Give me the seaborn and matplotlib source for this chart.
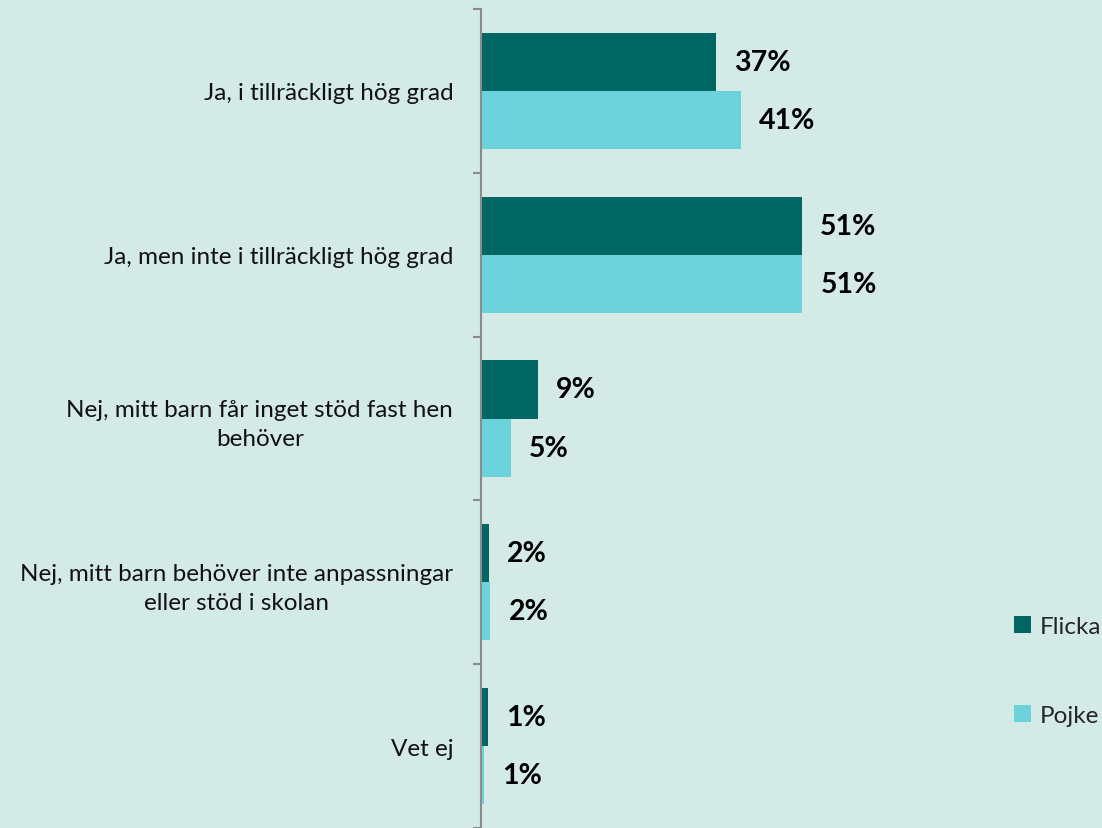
import pandas as pd
import numpy as np
import matplotlib
matplotlib.use('Agg')
import matplotlib.pyplot as plt
import seaborn as sns

kategorier = ['Ja, i tillräckligt hög grad',
              'Ja, men inte i tillräckligt hög grad',
              'Nej, mitt barn får inget stöd fast hen\nbehöver',
              'Nej, mitt barn behöver inte anpassningar\neller stöd i skolan',
              'Vet ej']
flicka = [37.4, 51.0, 9.0, 1.3, 1.1]
pojke = [41.3, 51.1, 4.8, 1.5, 0.5]
flicka_etiketter = ['37%', '51%', '9%', '2%', '1%']
pojke_etiketter = ['41%', '51%', '5%', '2%', '1%']

dados = pd.DataFrame({
    'kategori': kategorier * 2,
    'andel': flicka + pojke,
    'kon': ['Flicka'] * 5 + ['Pojke'] * 5,
})

bg = '#D3EAE6'
farger = {'Flicka': '#006663', 'Pojke': '#6CD3DD'}

sns.set_style('white')
plt.rcParams['font.family'] = ['Lato', 'DejaVu Sans']

fig = plt.figure(figsize=(11.02, 8.29), dpi=100, facecolor=bg)
ax = fig.add_axes([481 / 1102, 0.0, 1 - 481 / 1102, 1 - 10 / 829])
ax.set_facecolor(bg)

sns.barplot(data=dados, y='kategori', x='andel', hue='kon', palette=farger,
            orient='h', width=0.71, order=kategorier, ax=ax, legend=True,
            saturation=1, linewidth=0, edgecolor='none')

for cont, etik in zip(ax.containers, [flicka_etiketter, pojke_etiketter]):
    ax.bar_label(cont, labels=etik, padding=13, fontsize=20.5, fontweight='bold',
                 color='black')

ax.set_xlim(0, (1102 - 481) / 6.29)
ax.set_ylim(len(kategorier) - 0.5, -0.5)
ax.set_xlabel('')
ax.set_ylabel('')
ax.set_xticks([])

for s in ['top', 'right', 'bottom']:
    ax.spines[s].set_visible(False)
ax.spines['left'].set_color('#8C8C8C')
ax.spines['left'].set_linewidth(1.5)

ax.set_yticks(range(len(kategorier)))
ax.set_yticklabels(kategorier, fontsize=17.5, multialignment='center',
                   color='#111111', linespacing=1.45)
ax.tick_params(axis='y', which='major', left=False, length=0, pad=20)
ax.set_yticks(np.arange(-0.5, len(kategorier)), minor=True)
ax.tick_params(axis='y', which='minor', left=True, length=6, width=1.5,
               color='#8C8C8C')

ax.legend(loc='center left', bbox_to_anchor=(1014 / 1102, 1 - 672 / 829),
          bbox_transform=fig.transFigure, frameon=False, fontsize=17.5,
          handlelength=0.7, handleheight=0.7, handletextpad=0.35,
          labelspacing=2.8, borderaxespad=0, borderpad=0)

fig.savefig('out.png', dpi=100, facecolor=bg)
